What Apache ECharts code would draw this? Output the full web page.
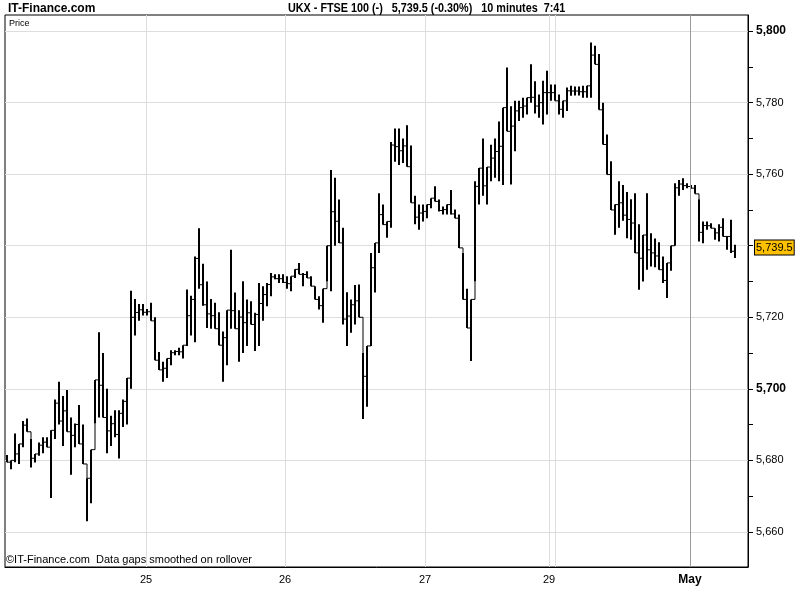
<!DOCTYPE html>
<html>
<head>
<meta charset="utf-8">
<script src="https://cdn.jsdelivr.net/npm/echarts@6/dist/echarts.min.js"></script>
<style>
  html, body { margin: 0; padding: 0; background: #fff; }
  #chart { width: 800px; height: 600px; }
</style>
</head>
<body>
<div id="chart"></div>
<script>
// 10 minute bars, UKX (FTSE 100), high / low
var barHigh = [
  5681.5, 5680, 5687.5, 5684.6, 5691, 5691.7, 5686, 5681.8, 5685, 5686.5,
  5686.5, 5688.4, 5697, 5702, 5698, 5699.7, 5692, 5690.3, 5695.5, 5690,
  5675, 5683, 5702.5, 5715.8, 5710, 5700, 5692.5, 5694, 5694, 5697,
  5703, 5727.4, 5725.1, 5723.7, 5723.7, 5722.3, 5724.1, 5720, 5710.3, 5707.6,
  5708.5, 5710.8, 5710.8, 5711.5, 5712.2, 5727.8, 5726, 5737, 5744.9, 5735,
  5730, 5725.1, 5724.1, 5721.4, 5716, 5722, 5738.9, 5726.9, 5722, 5730.1,
  5725, 5724.5, 5721.3, 5729.6, 5728.7, 5729.6, 5732.4, 5732, 5732, 5732,
  5731.5, 5731.5, 5733.4, 5735.2, 5732.4, 5732.9, 5731.5, 5728.7, 5725.9, 5728,
  5740, 5761.2, 5759, 5752.9, 5745, 5727, 5725, 5729, 5729.2, 5710,
  5712, 5738, 5740.8, 5754.7, 5751.5, 5746.8, 5769, 5772.8, 5772.8, 5770,
  5773.7, 5768, 5754, 5751.5, 5751.5, 5751.5, 5753.3, 5756.6, 5752.9, 5751,
  5751.5, 5755.6, 5750.1, 5748.7, 5738, 5728, 5725, 5758, 5761.7, 5770,
  5762, 5768.2, 5770, 5774.7, 5778.6, 5789.8, 5779, 5780.5, 5780.5, 5781.4,
  5781.4, 5790.7, 5786, 5782.3, 5786.1, 5788.9, 5785.1, 5785.1, 5782.3, 5780.5,
  5784.2, 5784.7, 5784.5, 5784.5, 5784.7, 5784.7, 5796.8, 5795.9, 5793.6, 5780,
  5771.1, 5763.6, 5751.5, 5758, 5757, 5755, 5753, 5754.7, 5746, 5743,
  5754.7, 5743.5, 5742, 5741, 5737, 5735.2, 5740, 5757.5, 5758.4, 5758.9,
  5757.5, 5757, 5757, 5753, 5746.8, 5746.8, 5746.3, 5744.9, 5746, 5747.7,
  5742.6, 5747.3, 5740.3
];
var barLow = [
  5679.5, 5677.5, 5679.5, 5679, 5683.7, 5688, 5678, 5679.4, 5681.3, 5682,
  5683.7, 5669.5, 5686, 5690, 5684, 5688, 5676, 5683.7, 5684.6, 5679,
  5663, 5668, 5690.3, 5692, 5692, 5682, 5684, 5686.5, 5680.5, 5689.3,
  5690, 5700, 5714.9, 5719, 5720.5, 5720.5, 5719, 5708, 5705.3, 5702,
  5703, 5706.6, 5709.4, 5709.4, 5708.5, 5712, 5714.9, 5713, 5728, 5723.2,
  5717, 5716.8, 5716.8, 5712.2, 5702, 5706.6, 5716.8, 5716.8, 5707.6, 5710,
  5712, 5718, 5710.6, 5712, 5719, 5723.1, 5725.9, 5730.6, 5729.6, 5729.6,
  5728, 5727.3, 5731, 5732, 5728.7, 5731, 5728.7, 5725, 5722.2, 5718.5,
  5730, 5727.3, 5740, 5740.8, 5718, 5712, 5715.7, 5718, 5720, 5691.6,
  5695, 5712, 5726.9, 5738, 5745.9, 5742.2, 5745, 5763.5, 5762.6, 5763.1,
  5762.1, 5752, 5746, 5744.5, 5746.8, 5747.7, 5750.5, 5752.4, 5749.6, 5748.7,
  5748.7, 5748.7, 5747.7, 5739.4, 5725, 5717, 5707.8, 5730, 5751.5, 5754,
  5751.5, 5758, 5759, 5758, 5757, 5772, 5757.1, 5766.4, 5774.9, 5775.8,
  5776.7, 5780, 5777, 5775.8, 5773.9, 5776.7, 5780.5, 5780.5, 5776.7, 5775.8,
  5777.7, 5781.9, 5782, 5782, 5781.4, 5781.4, 5781.4, 5790.7, 5778, 5768.3,
  5759.9, 5750, 5743.1, 5745, 5747, 5742.1, 5741.7, 5738, 5727.7, 5730,
  5733.3, 5734.2, 5734, 5733.3, 5729.6, 5725.4, 5733, 5740, 5754, 5755.6,
  5756.1, 5756.1, 5754.5, 5741.2, 5740.7, 5744.5, 5744.9, 5741.7, 5741.2, 5742.6,
  5738.9, 5738, 5736.6
];
var lastPrice = 5739.5;

// day starts, counted in bars
var dayStart = [35.25, 70, 105, 136, 171.25];
var dayLabels = ['25', '26', '27', '29', 'May'];
var dayLines = [35.25, 70, 105, 136, 137.5, 171.25];
var slotCount = 185.75;

var priceTicks = [5660, 5680, 5700, 5720, 5740, 5760, 5780, 5800];
var minorTicks = [5660, 5670, 5680, 5690, 5700, 5710, 5720, 5730, 5740, 5750, 5760, 5770, 5780, 5790, 5800];

var FONT = "'Liberation Sans', Arial, sans-serif";

var chart = echarts.init(document.getElementById('chart'));

var bars = barHigh.map(function (h, i) {
  return [i + 0.5, h, barLow[i]];
});

var yMin = 5650.2, yMax = 5804.5;

chart.setOption({
  backgroundColor: '#fff',
  animation: false,
  grid: {
    left: 5,
    right: 52,
    top: 15,
    bottom: 33,
    show: true,
    borderColor: '#000',
    borderWidth: 1,
    backgroundColor: '#fff'
  },
  graphic: [
    { type: 'text', left: 8, top: 3, style: { text: 'IT-Finance.com', font: 'bold 12px ' + FONT, fill: '#000' } },
    { type: 'text', x: 288, y: 3, scaleX: 0.9, style: { text: 'UKX - FTSE 100 (-)   5,739.5 (-0.30%)   10 minutes  7:41', font: 'bold 12px ' + FONT, fill: '#000' } },
    { type: 'text', left: 9, top: 19, style: { text: 'Price', font: '9px ' + FONT, fill: '#000' } },
    { type: 'text', left: 6, top: 554, style: { text: '\u00a9IT-Finance.com  Data gaps smoothed on rollover', font: '11px ' + FONT, fill: '#000' } }
  ],
  xAxis: {
    type: 'value',
    min: 0,
    max: slotCount,
    axisLine: { show: true, onZero: false, lineStyle: { color: '#000' } },
    axisTick: { show: false, customValues: dayLines },
    splitLine: { show: true, lineStyle: { color: '#dddddd', width: 1 } },
    axisLabel: {
      customValues: dayStart,
      margin: 7,
      fontFamily: FONT,
      fontSize: 11,
      color: '#000',
      formatter: function (v) {
        var k = dayStart.indexOf(v);
        var s = k >= 0 ? dayLabels[k] : '';
        return s === 'May' ? '{b|May}' : s;
      },
      rich: { b: { fontWeight: 'bold', fontSize: 12, fontFamily: FONT } }
    }
  },
  yAxis: [{
    type: 'value',
    position: 'right',
    min: yMin,
    max: yMax,
    axisLine: { show: true, onZero: false, lineStyle: { color: '#000' } },
    axisTick: { show: true, length: 5, customValues: minorTicks, lineStyle: { color: '#000' } },
    splitLine: { show: false },
    axisLabel: {
      customValues: priceTicks,
      margin: 8,
      fontFamily: FONT,
      fontSize: 11,
      color: '#000',
      formatter: function (v) {
        var s = echarts.format.addCommas(v);
        return (v % 100 === 0) ? '{b|' + s + '}' : s;
      },
      rich: { b: { fontWeight: 'bold', fontSize: 12, fontFamily: FONT } }
    }
  }, {
    type: 'value',
    position: 'right',
    min: yMin,
    max: yMax,
    axisLine: { show: false, onZero: false },
    axisTick: { show: false, customValues: priceTicks },
    axisLabel: { show: false },
    splitLine: { show: true, lineStyle: { color: '#dddddd', width: 1 } }
  }, {
    type: 'value',
    position: 'right',
    min: yMin,
    max: yMax,
    axisLine: { show: false, onZero: false },
    axisTick: { show: false, customValues: [lastPrice] },
    splitLine: { show: false },
    axisLabel: {
      customValues: [lastPrice],
      margin: 7,
      fontFamily: FONT,
      fontSize: 11,
      color: '#000',
      backgroundColor: '#ffc000',
      borderColor: '#000',
      borderWidth: 1,
      padding: [2, 1, 1, 1],
      formatter: function (v) { return echarts.format.addCommas(v.toFixed(1)); }
    }
  }],
  series: [{
    type: 'line',
    data: [],
    markLine: {
      silent: true,
      symbol: 'none',
      label: { show: false },
      lineStyle: { color: '#9a9a9a', type: 'solid', width: 1 },
      data: [{ xAxis: dayStart[4] }]
    }
  }, {
    type: 'custom',
    data: bars,
    renderItem: function (params, api) {
      var i = params.dataIndex;
      var x = api.value(0);
      var hi = api.value(1), lo = api.value(2);
      var top = api.coord([x, hi]);
      var bot = api.coord([x, lo]);
      var kids = [{
        type: 'rect',
        shape: { x: top[0] - 1, y: top[1], width: 2, height: Math.max(bot[1] - top[1], 1) },
        style: { fill: '#000' }
      }];
      // join to the next bar like the HLC ticks in the original
      if (i + 1 < barHigh.length) {
        var nh = barHigh[i + 1], nl = barLow[i + 1];
        var lvl = Math.min(Math.max((nh + nl) / 2, lo), hi);
        var lvl2 = Math.min(Math.max(lvl, nl), nh);
        kids.push({
          type: 'polyline',
          shape: { points: [api.coord([x, lvl]), api.coord([x + 1, lvl]), api.coord([x + 1, lvl2])] },
          style: { stroke: '#000', lineWidth: 1, fill: null }
        });
      }
      return { type: 'group', children: kids };
    }
  }]
});
</script>
</body>
</html>
